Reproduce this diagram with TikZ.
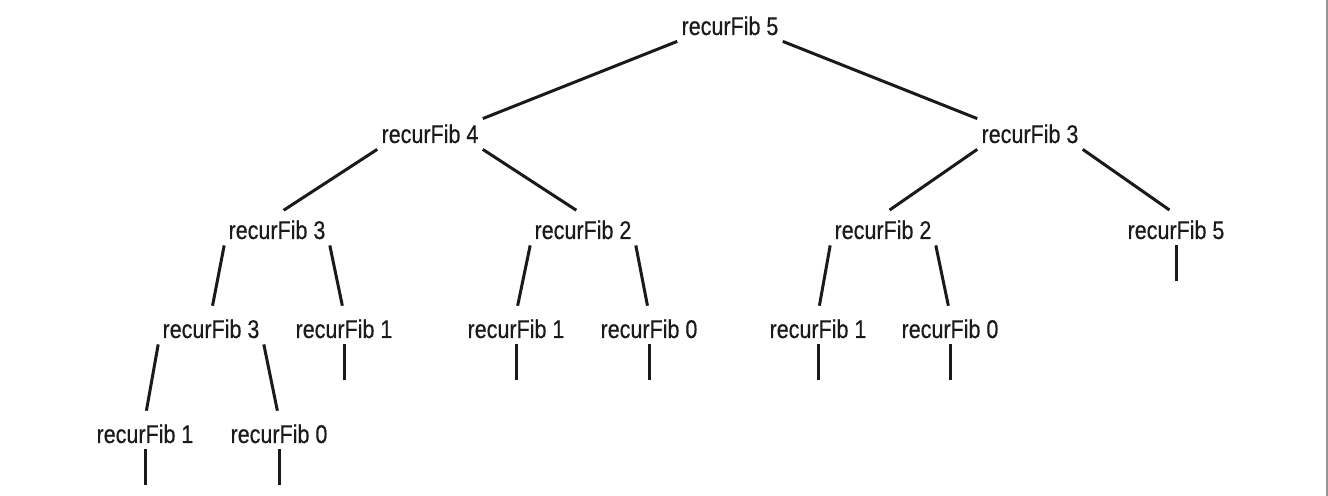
\documentclass[tikz,border=0pt]{standalone}
\usepackage{fontspec}
\setmainfont[FakeStretch=0.84, FakeBold=0.5]{Liberation Sans}
\usetikzlibrary{positioning}
\definecolor{ink}{RGB}{26,26,26}
\definecolor{rule}{RGB}{150,150,150}

\begin{document}
\begin{tikzpicture}[x=0.5pt, y=-0.5pt,
    call/.style={font=\fontsize{12.8}{14}\selectfont, text=ink, inner xsep=2pt,
        inner ysep=3pt, text height=9pt, text depth=0pt, anchor=base},
    link/.style={draw=ink, line width=1.5pt},
    sub/.style={link, shorten >=4pt}]
\useasboundingbox (0,0) rectangle (1328,496);
\draw[rule, line width=1pt] (1326.5,0) -- (1326.5,496);

% --- calls ---
\node[call] (r) at (730,35) {recurFib 5};
\node[call] (a) at (430,143) {recurFib 4};
\node[call] (b) at (1030,143) {recurFib 3};
\node[call] (aa) at (277,239) {recurFib 3};
\node[call] (ab) at (583,239) {recurFib 2};
\node[call] (ba) at (883,239) {recurFib 2};
\node[call] (bb) at (1176,239) {recurFib 5};
\node[call] (aaa) at (211,338) {recurFib 3};
\node[call] (aab) at (344,338) {recurFib 1};
\node[call] (aba) at (516,338) {recurFib 1};
\node[call] (abb) at (649,338) {recurFib 0};
\node[call] (baa) at (818,338) {recurFib 1};
\node[call] (bab) at (950,338) {recurFib 0};
\node[call] (aaaa) at (145,443) {recurFib 1};
\node[call] (aaab) at (279,443) {recurFib 0};

% --- edges ---
\draw[link] (r.south west) -- (a.north east);
\draw[link] (r.south east) -- (b.north west);
\foreach \p/\l/\rr in {a/aa/ab, b/ba/bb, aa/aaa/aab, ab/aba/abb, ba/baa/bab, aaa/aaaa/aaab} {
    \draw[sub] (\p.south west) -- (\l.north);
    \draw[sub] (\p.south east) -- (\rr.north);
}

% --- leaves ---
\foreach \n in {bb, aab, aba, abb, baa, bab, aaaa, aaab}
    \draw[link] (\n.south) -- ++(0,36);
\end{tikzpicture}
\end{document}
